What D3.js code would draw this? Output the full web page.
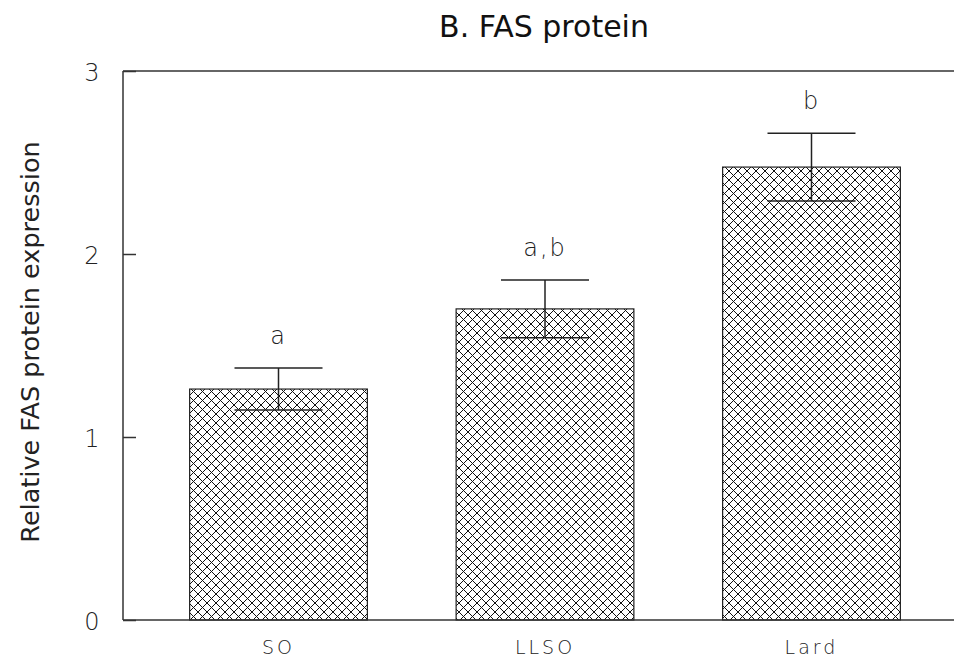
<!DOCTYPE html>
<html>
<head>
<meta charset="utf-8">
<script src="https://cdn.jsdelivr.net/npm/d3@7"></script>
<style>
  html, body { margin: 0; padding: 0; background: #fff; }
  svg { display: block; }
</style>
</head>
<body>
<script>
// FAS protein expression by diet group
const categories = ["SO", "LLSO", "Lard"];
const means = [1.262, 1.70, 2.475];
const errors = [0.115, 0.158, 0.185];
const sigLabels = ["a", "a,b", "b"];
const yTicks = [0, 1, 2, 3];

const W = 954, H = 660;
const svg = d3.select("body").append("svg").attr("width", W).attr("height", H);

const plotLeft = 123, plotTop = 71, plotBottom = 620;
const thinFont = "DejaVu Sans, sans-serif";

const x = d3.scaleBand().domain(categories)
  .range([plotLeft, 967]).paddingInner(0.333).paddingOuter(0.25);
const y = d3.scaleLinear().domain([0, 3]).range([plotBottom, plotTop]);

// cross-hatch fill
const defs = svg.append("defs");
const pat = defs.append("pattern").attr("id", "xhatch")
  .attr("patternUnits", "userSpaceOnUse").attr("width", 9).attr("height", 9);
pat.append("rect").attr("width", 9).attr("height", 9).attr("fill", "#fff");
pat.append("path").attr("d", "M-1,-1 L10,10 M-1,8 L1,10 M8,-1 L10,1")
  .attr("stroke", "#111").attr("stroke-width", 1);
pat.append("path").attr("d", "M-1,10 L10,-1 M-1,1 L1,-1 M8,10 L10,8")
  .attr("stroke", "#111").attr("stroke-width", 1);

// bars
svg.selectAll("rect.bar").data(categories).enter().append("rect")
  .attr("class", "bar")
  .attr("x", d => x(d))
  .attr("y", (d, i) => y(means[i]))
  .attr("width", x.bandwidth())
  .attr("height", (d, i) => plotBottom - y(means[i]))
  .attr("fill", "url(#xhatch)")
  .attr("stroke", "#222").attr("stroke-width", 1.2);

// error bars
const capHalf = 44;
const eg = svg.append("g").attr("stroke", "#222").attr("stroke-width", 1.5);
categories.forEach((c, i) => {
  const cx = x(c) + x.bandwidth() / 2;
  const yt = y(means[i] + errors[i]), yb = y(means[i] - errors[i]);
  eg.append("line").attr("x1", cx).attr("x2", cx).attr("y1", yt).attr("y2", yb);
  eg.append("line").attr("x1", cx - capHalf).attr("x2", cx + capHalf).attr("y1", yt).attr("y2", yt);
  eg.append("line").attr("x1", cx - capHalf).attr("x2", cx + capHalf).attr("y1", yb).attr("y2", yb);
});

// significance letters
svg.selectAll("text.sig").data(categories).enter().append("text")
  .attr("class", "sig")
  .attr("x", d => x(d) + x.bandwidth() / 2)
  .attr("y", (d, i) => y(means[i] + errors[i]) - 24)
  .attr("text-anchor", "middle")
  .attr("font-family", thinFont)
  .attr("font-size", 24).attr("font-weight", 200).attr("fill", "#222")
  .attr("letter-spacing", 2)
  .text((d, i) => sigLabels[i]);

// frame: left, top, bottom lines
const frame = svg.append("g").attr("stroke", "#333").attr("stroke-width", 1.5);
frame.append("line").attr("x1", plotLeft).attr("x2", plotLeft).attr("y1", plotTop).attr("y2", plotBottom);
frame.append("line").attr("x1", plotLeft).attr("x2", W).attr("y1", plotTop).attr("y2", plotTop);
frame.append("line").attr("x1", plotLeft).attr("x2", W).attr("y1", plotBottom).attr("y2", plotBottom);

// y axis with inward ticks
const yAxis = d3.axisRight(y).tickValues(yTicks).tickSize(13).tickFormat(d3.format("d"));
const ya = svg.append("g").attr("transform", `translate(${plotLeft},0)`).call(yAxis);
ya.select(".domain").remove();
ya.selectAll(".tick line").attr("stroke", "#333").attr("stroke-width", 1.5);
ya.selectAll(".tick text")
  .attr("x", -31).attr("text-anchor", "middle").attr("dy", "0.38em")
  .attr("font-family", thinFont).attr("font-size", 24)
  .attr("font-weight", 200).attr("fill", "#222");

// x category labels
const xAxis = d3.axisBottom(x).tickSize(0);
const xa = svg.append("g").attr("transform", `translate(0,${plotBottom})`).call(xAxis);
xa.select(".domain").remove();
xa.selectAll(".tick text")
  .attr("y", 21).attr("dy", "0.71em")
  .attr("font-family", thinFont).attr("font-size", 19)
  .attr("font-weight", 200)
  .attr("letter-spacing", 3).attr("fill", "#222");

// title
svg.append("text").attr("x", 544).attr("y", 37)
  .attr("text-anchor", "middle")
  .attr("font-family", "DejaVu Sans, sans-serif").attr("font-size", 30)
  .attr("fill", "#111")
  .text("B. FAS protein");

// y axis title
svg.append("text")
  .attr("transform", `translate(39,342) rotate(-90)`)
  .attr("text-anchor", "middle")
  .attr("font-family", "DejaVu Sans, sans-serif").attr("font-size", 25.5)
  .attr("fill", "#222")
  .text("Relative FAS protein expression");
</script>
</body>
</html>
